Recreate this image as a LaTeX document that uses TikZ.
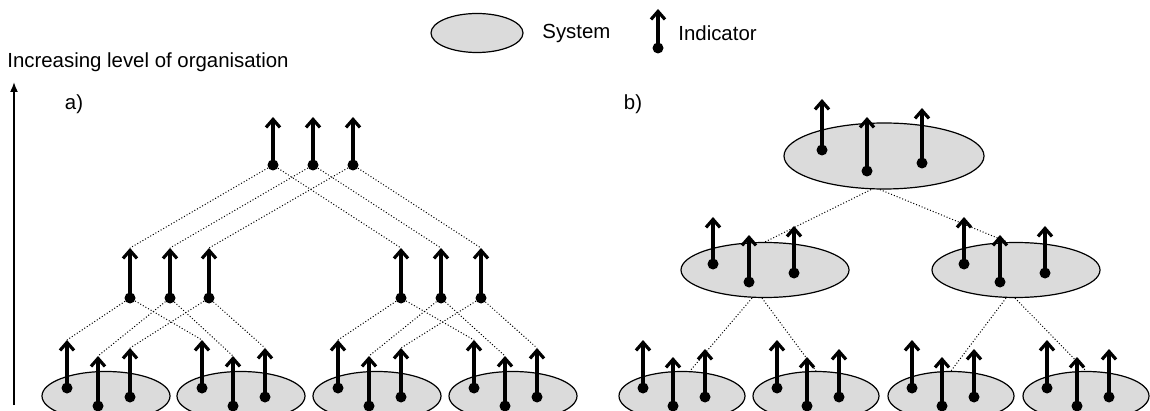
\documentclass[tikz,border=0pt]{standalone}
\usepackage{fontspec}
\setmainfont{Liberation Sans}
\usepackage{tikz}
\usetikzlibrary{arrows.meta}
\usetikzlibrary{shapes.geometric}
\usetikzlibrary{positioning}
\definecolor{sysgray}{gray}{0.86}
\tikzset{system/.style={ellipse, draw, fill=sysgray, line width=0.6pt, inner sep=0pt}}
\tikzset{dot/.style={circle, fill, inner sep=0pt, minimum size=5.5pt}}
\tikzset{indarrow/.style={line width=1.6pt, -{Straight Barb[length=4pt,width=7pt]}}}
\tikzset{link/.style={densely dotted, line width=0.5pt}}
\tikzset{lbl/.style={inner sep=0pt}}
% indicator: name, x, y of dot, y of tip
\newcommand{\indic}[4]{%
  \node[dot] (#1-d) at (#2,#3) {};
  \coordinate (#1-t) at (#2,#4);
  \draw[indarrow] (#1-d.center) -- (#1-t);
}

\begin{document}
\begin{tikzpicture}[x=0.5pt, y=-0.5pt, font=\fontsize{10.2}{12}\selectfont]
   \useasboundingbox (0,0) rectangle (1150,411);

   % legend
   \node[system, minimum width=46pt, minimum height=19.5pt] (legsys) at (477,33) {};
   \node[lbl, anchor=west] (legsystxt) at (542,33) {System};
   \indic{legind}{658}{48}{9}
   \node[lbl, anchor=west] (legindtxt) at (678,33) {Indicator};

   % axis
   \coordinate (axbot) at (14,405);
   \coordinate (axtop) at (14,82);
   \draw[line width=0.8pt, -{Latex[length=5pt,width=4pt]}] (axbot) -- (axtop);
   \node[lbl, anchor=west] (axlabel) at (7,62) {Increasing level of organisation};
   \node[lbl] (la) at (74,104) {a)};
   \node[lbl] (lb) at (633,104) {b)};

   % a) indicators only, linked between levels
   \foreach \c [count=\i] in {106,241,377,513} {
      \node[system, minimum width=64pt, minimum height=24.5pt] (ea\i) at (\c,396) {};
   }
   \foreach \x [count=\i] in {273,313,353} {
      \indic{ta\i}{\x}{165}{117}
   }
   \foreach \x [count=\i] in {130,170,209,401,441,481} {
      \indic{ma\i}{\x}{298}{248}
   }
   \foreach \c [count=\i] in {106,241,377,513} {
      \indic{ea\i-1}{\c-39}{388}{340}
      \indic{ea\i-2}{\c-8}{406}{356}
      \indic{ea\i-3}{\c+24}{397}{348}
   }
   \foreach \k in {1,2,3} {
      \pgfmathtruncatemacro{\r}{\k+3}
      \draw[link] (ta\k-d) -- (ma\k-t);
      \draw[link] (ta\k-d) -- (ma\r-t);
      \draw[link] (ma\k-d) -- (ea1-\k-t);
      \draw[link] (ma\k-d) -- (ea2-\k-t);
      \draw[link] (ma\r-d) -- (ea3-\k-t);
      \draw[link] (ma\r-d) -- (ea4-\k-t);
   }

   % b) indicators carried by nested systems
   \node[system, minimum width=100pt, minimum height=33pt] (topsys) at (884,156) {};
   \node[system, minimum width=84pt, minimum height=27.5pt] (lsys) at (765,270) {};
   \node[system, minimum width=84pt, minimum height=27.5pt] (rsys) at (1016,270) {};
   \foreach \c [count=\i] in {682,816,951,1086} {
      \node[system, minimum width=63pt, minimum height=24.5pt] (eb\i) at (\c,396) {};
   }
   \draw[link] ([xshift=-6.5pt]topsys.south) -- (lsys.north);
   \draw[link] ([xshift=-2pt]topsys.south) -- ([xshift=-4.5pt]rsys.north);
   \draw[link] ([xshift=-6.5pt]lsys.south) -- ([xshift=4pt]eb1.north);
   \draw[link] ([xshift=-1.5pt]lsys.south) -- (eb2.north);
   \draw[link] ([xshift=-5pt]rsys.south) -- (eb3.north);
   \draw[link] ([xshift=-0.5pt]rsys.south) -- (eb4.north);

   \indic{tb1}{822}{150}{99}
   \indic{tb2}{867}{171}{117}
   \indic{tb3}{922}{163}{108}
   \indic{lb1}{713}{264}{217}
   \indic{lb2}{749}{282}{235}
   \indic{lb3}{794}{273}{226}
   \indic{rb1}{964}{264}{217}
   \indic{rb2}{1000}{282}{235}
   \indic{rb3}{1045}{273}{226}
   \foreach \c [count=\i] in {682,816,951,1086} {
      \indic{eb\i-1}{\c-39}{388}{340}
      \indic{eb\i-2}{\c-9}{406}{357}
      \indic{eb\i-3}{\c+23}{397}{349}
   }
\end{tikzpicture}
\end{document}
